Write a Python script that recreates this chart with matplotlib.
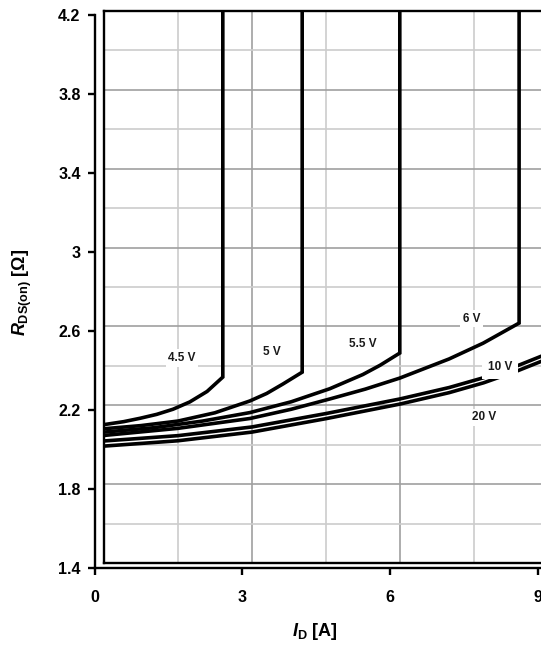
import matplotlib
matplotlib.use("Agg")
import matplotlib.pyplot as plt
import numpy as np

plt.rcParams['font.family'] = ['Liberation Sans', 'DejaVu Sans']
plt.rcParams['font.weight'] = 'bold'
plt.rcParams['mathtext.fontset'] = 'custom'
plt.rcParams['mathtext.rm'] = 'Liberation Sans:bold'
plt.rcParams['mathtext.it'] = 'Liberation Sans:italic:bold'
plt.rcParams['mathtext.bf'] = 'Liberation Sans:bold'

# Drain current I_D [A] and on-state resistance R_DS(on) [Ohm] per gate voltage
id_45 = [0.0, 0.4, 0.73, 1.07, 1.40, 1.74, 2.09, 2.41, 2.41]
r_45 = [2.102, 2.117, 2.134, 2.154, 2.180, 2.217, 2.270, 2.343, 4.2]

id_50 = [0.0, 0.75, 1.5, 2.25, 2.96, 3.3, 3.63, 4.02, 4.02]
r_50 = [2.081, 2.097, 2.120, 2.162, 2.222, 2.260, 2.308, 2.368, 4.2]

id_55 = [0.0, 1.0, 2.0, 2.96, 3.8, 4.58, 5.25, 5.6, 6.0, 6.0]
r_55 = [2.064, 2.086, 2.120, 2.163, 2.218, 2.284, 2.356, 2.403, 2.465, 4.2]

id_60 = [0.0, 1.5, 2.96, 3.8, 4.58, 5.3, 6.0, 7.0, 7.69, 8.42, 8.42]
r_60 = [2.047, 2.083, 2.133, 2.180, 2.232, 2.282, 2.338, 2.435, 2.515, 2.617, 4.2]

id_10 = [0.0, 1.5, 3.0, 4.5, 6.0, 7.0, 7.7, 8.4, 9.0]
r_10 = [2.019, 2.046, 2.090, 2.158, 2.232, 2.290, 2.340, 2.402, 2.462]

id_20 = [0.0, 1.5, 3.0, 4.5, 6.0, 7.0, 7.7, 8.4, 9.0]
r_20 = [1.993, 2.020, 2.064, 2.132, 2.206, 2.264, 2.314, 2.376, 2.436]

curve_labels = ["4.5 V", "5 V", "5.5 V", "6 V", "10 V", "20 V"]
label_pos = [(1.58, 2.440), (3.41, 2.470), (5.25, 2.51), (7.46, 2.640),
             (8.03, 2.394), (7.71, 2.140)]

x_ticks = [0, 3, 6, 9]
y_ticks = [1.4, 1.8, 2.2, 2.6, 3.0, 3.4, 3.8, 4.2]
y_tick_labels = ["1.4", "1.8", "2.2", "2.6", "3", "3.4", "3.8", "4.2"]

W, H = 541, 651
fig = plt.figure(figsize=(W / 100, H / 100), dpi=100)

# Plot box with grid and curves
ax = fig.add_axes([104 / W, (H - 563) / H, 443.7 / W, 552 / H])
# Detached scale axes carrying the ticks and tick labels
ax2 = fig.add_axes([94.5 / W, (H - 568) / H, 443.7 / W, 553 / H])
ax.set_zorder(2)
ax2.set_zorder(1)

for a in (ax, ax2):
    a.set_xlim(0, 9)
    a.set_ylim(1.4, 4.2)

# grid
ax.set_xticks([3, 6])
ax.set_xticks([1.5, 4.5, 7.5], minor=True)
ax.set_yticks(np.arange(1.8, 4.0, 0.4))
ax.set_yticks(np.arange(1.6, 4.2, 0.4), minor=True)
ax.grid(which='major', color='#a0a0a0', lw=1.2)
ax.grid(which='minor', color='#cccccc', lw=1.2)
ax.tick_params(which='both', length=0, labelbottom=False, labelleft=False)
ax.set_axisbelow(True)
for s in ax.spines.values():
    s.set_linewidth(1.7)
    s.set_color('black')

series = [(id_45, r_45), (id_50, r_50), (id_55, r_55), (id_60, r_60),
          (id_10, r_10), (id_20, r_20)]
for xs, ys in series:
    ax.plot(xs, ys, color='black', lw=2.6, solid_joinstyle='miter',
            solid_capstyle='butt', zorder=3)

for text, (lx, ly) in zip(curve_labels, label_pos):
    pad = 0.22
    if text == "10 V":
        pad = 0.5
    ax.text(lx, ly, text, fontsize=8.5, fontweight='bold', ha='center',
            va='center', zorder=5, color='#1a1a1a',
            bbox=dict(boxstyle=f'square,pad={pad}', fc='white', ec='none'))

# scale axes
ax2.patch.set_visible(False)
ax2.spines['top'].set_visible(False)
ax2.spines['right'].set_visible(False)
ax2.spines['left'].set_linewidth(1.7)
ax2.spines['bottom'].set_linewidth(1.7)
ax2.spines['bottom'].set_bounds(0, 9.2)
ax2.set_xticks(x_ticks)
ax2.set_xticklabels([str(v) for v in x_ticks])
ax2.set_yticks(y_ticks)
ax2.set_yticklabels(y_tick_labels)
ax2.tick_params(axis='x', direction='out', length=5, width=1.7, pad=11,
                labelsize=11.5)
ax2.tick_params(axis='y', direction='out', length=5, width=1.7, pad=5,
                labelsize=11.5)
for lab in ax2.get_xticklabels() + ax2.get_yticklabels():
    lab.set_fontweight('bold')

fig.text(315 / W, 1 - 631 / H, r'$I_\mathrm{D}$ [A]', fontsize=13,
         fontweight='bold', ha='center', va='center')
fig.text(22 / W, 1 - 292 / H, r'$R_\mathrm{DS(on)}$ [Ω]', fontsize=13,
         fontweight='bold', ha='center', va='center', rotation=90)

fig.savefig('out.png', dpi=100)
